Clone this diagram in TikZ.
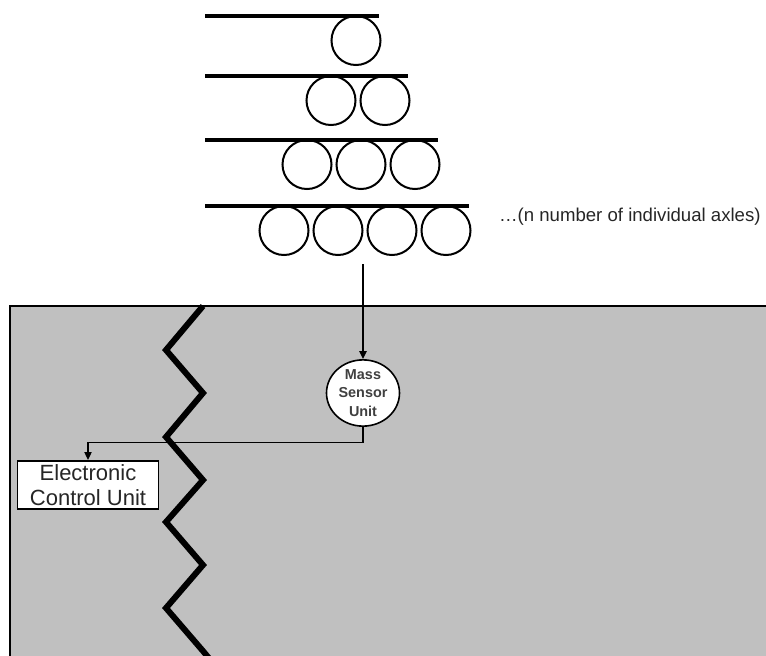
\documentclass[tikz,border=0pt]{standalone}
\usepackage{fontspec}
\setmainfont{Liberation Sans}
\usetikzlibrary{shapes.geometric,arrows.meta}
\definecolor{bodygray}{RGB}{192,192,192}
\tikzset{
  axle/.style={draw,circle,line width=1pt,minimum size=24.5pt,inner sep=0pt},
  deck/.style={line width=1.6pt},
  wire/.style={line width=0.8pt},
  tip/.style={-{Triangle[length=4pt,width=3.6pt]}},
}

\begin{document}
\begin{tikzpicture}[x=0.5pt,y=-0.5pt]
\useasboundingbox (0,0) rectangle (766,655);

% vehicle body
\draw[line width=1.1pt,fill=bodygray] (10,306) rectangle (800,700);

% stacked axles
\foreach \n/\ly/\lx in {1/16/379,2/76/408,3/140/438,4/206/469}{
  \draw[deck] (205,\ly) -- (\lx,\ly);
  \foreach \k in {1,...,\n}
    \node[axle] (axle\n-\k) at ({\lx-23-(\k-1)*54},{\ly+24.5}) {};
}
\node[anchor=west,font=\fontsize{9.3pt}{11pt}\selectfont,text=black!85] (axles) at (492,217) {…(n number of individual axles)};

% break line
\draw[line width=3pt,line join=miter] (203,306) -- (166,350) -- (203,393) -- (166,437)
  -- (203,480) -- (166,522) -- (203,565) -- (166,608) -- (203,651) -- (212,662);

\node[draw,ellipse,fill=white,line width=0.8pt,minimum width=36.5pt,minimum height=30.5pt,
  inner sep=0pt,align=center,text=black!75,font=\fontsize{7.2pt}{9.2pt}\selectfont\bfseries] (sensor) at (363,393) {Mass\\Sensor\\Unit};
\node[draw,fill=white,line width=0.8pt,minimum width=70.5pt,minimum height=24.2pt,inner sep=0pt,
  align=center,text=black!85,font=\fontsize{11pt}{12.8pt}\selectfont] (ecu) at (88,485) {Electronic\\Control Unit};

\coordinate (drop) at (363,264);
\draw[wire,tip] (drop) -- (sensor);
\draw[wire,tip] (sensor.south) -- ++(0,15.5) -| (ecu.north);
\end{tikzpicture}
\end{document}
